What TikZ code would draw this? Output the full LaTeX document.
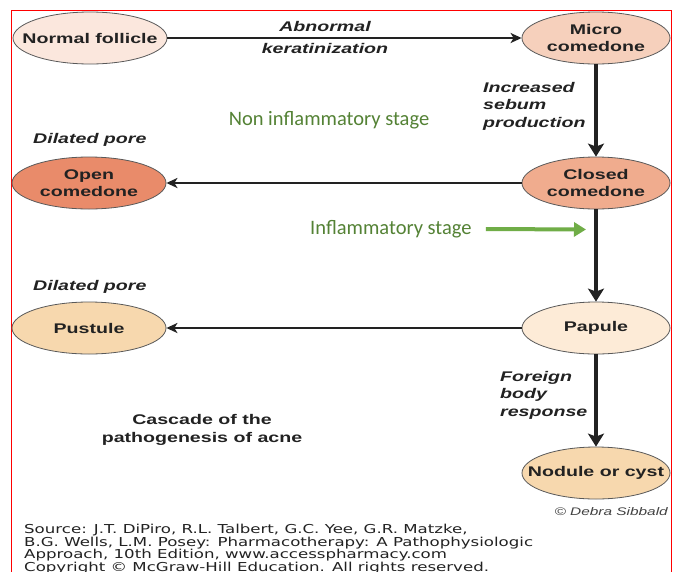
\documentclass[tikz,border=0pt]{standalone}
\usepackage{fontspec}
\usetikzlibrary{shapes.geometric,arrows.meta}
\newfontfamily\nodefont[FakeStretch=1.4]{Liberation Sans}
\newfontfamily\srcfont[FakeStretch=1.35]{DejaVu Sans}
\newfontfamily\greenfont{Carlito}
\definecolor{fillA}{HTML}{FBE7DD}
\definecolor{fillB}{HTML}{F6D0BC}
\definecolor{fillC}{HTML}{E98B6A}
\definecolor{fillD}{HTML}{F0AC8E}
\definecolor{fillE}{HTML}{F7D8AE}
\definecolor{fillF}{HTML}{FDEBD7}
\definecolor{txtdark}{HTML}{222222}
\definecolor{grtext}{HTML}{548235}
\definecolor{grarrow}{HTML}{70AD47}
\tikzset{
  stage/.style={ellipse, draw=black!65, line width=0.8pt, minimum width=154pt, minimum height=52pt,
    inner xsep=-18pt, inner ysep=-4pt, align=center, text=txtdark, font=\nodefont\bfseries\fontsize{14}{17}\selectfont},
  lbl/.style={text=txtdark, align=left, inner sep=0pt, font=\nodefont\bfseries\itshape\fontsize{14}{17.5}\selectfont},
  thinarrow/.style={draw=txtdark, line width=2.2pt, -{Stealth[length=11pt,width=10pt,inset=3pt]}},
  thickarrow/.style={draw=txtdark, line width=4.5pt, -{Stealth[length=13pt,width=16pt,inset=3pt]}},
  greentxt/.style={text=grtext, inner sep=0pt, font=\greenfont\fontsize{20.5}{24}\selectfont},
}
\begin{document}
\begin{tikzpicture}[x=1pt,y=-1pt]
\useasboundingbox (0,0) rectangle (680,571);
\clip (0,0) rectangle (680,571);
\fill[white] (0,0) rectangle (680,571);
\draw[red, line width=1.6pt] (11.5,10.5) rectangle (671.5,620);

\node[stage, fill=fillA] (nf) at (90,38) {Normal follicle};
\node[stage, fill=fillB, minimum width=148pt] (mc) at (596,38) {Micro\\comedone};
\node[stage, fill=fillC] (oc) at (89,183) {Open\\comedone};
\node[stage, fill=fillD, minimum width=148pt] (cc) at (596,183) {Closed\\comedone};
\node[stage, fill=fillE] (pu) at (89,328) {Pustule};
\node[stage, fill=fillF, minimum width=148pt] (pa) at (596,328) {Papule};
\node[stage, fill=fillE, minimum width=148pt] (no) at (596,473) {Nodule or cyst};

\draw[thinarrow] (nf) -- (mc);
\draw[thickarrow] (mc) -- (cc);
\draw[thinarrow] (cc) -- (oc);
\draw[thickarrow] (cc) -- (pa);
\draw[thinarrow] (pa) -- (pu);
\draw[thickarrow] (pa) -- (no);

\node[lbl, anchor=center] (l1) at (325,26) {Abnormal};
\node[lbl, anchor=center] (l2) at (325,48) {keratinization};
\node[lbl, anchor=west] (l3) at (483,106) {Increased\\sebum\\production};
\node[lbl, anchor=west] (l4) at (33,140) {Dilated pore};
\node[lbl, anchor=west] (l5) at (33,287) {Dilated pore};
\node[lbl, anchor=west] (l6) at (500,395) {Foreign\\body\\response};
\node[lbl, anchor=center, align=center, font=\nodefont\bfseries\fontsize{14}{17.5}\selectfont] (cap) at (202,430) {Cascade of the\\pathogenesis of acne};
\node[anchor=east, inner sep=0pt, text=txtdark!85, font=\nodefont\itshape\fontsize{11}{13}\selectfont] (cr) at (668,512) {\textcopyright{} Debra Sibbald};

\node[greentxt] (g1) at (329,120) {Non inflammatory stage};
\node[greentxt, anchor=west] (g2) at (310,229) {Inflammatory stage};
\coordinate (gend) at (586,229.5);
\draw[grarrow, line width=4pt, -{Triangle[length=12pt,width=14pt]}] ([xshift=14pt]g2.east) -- (gend);

\node[anchor=north west, inner sep=0pt, align=left, text=txtdark, font=\srcfont\fontsize{12.3}{12.6}\selectfont] (src) at (24,524) {Source: J.T. DiPiro, R.L. Talbert, G.C. Yee, G.R. Matzke,\\B.G. Wells, L.M. Posey: Pharmacotherapy: A Pathophysiologic\\Approach, 10th Edition, www.accesspharmacy.com\\Copyright \textcopyright{} McGraw-Hill Education. All rights reserved.};
\end{tikzpicture}
\end{document}
